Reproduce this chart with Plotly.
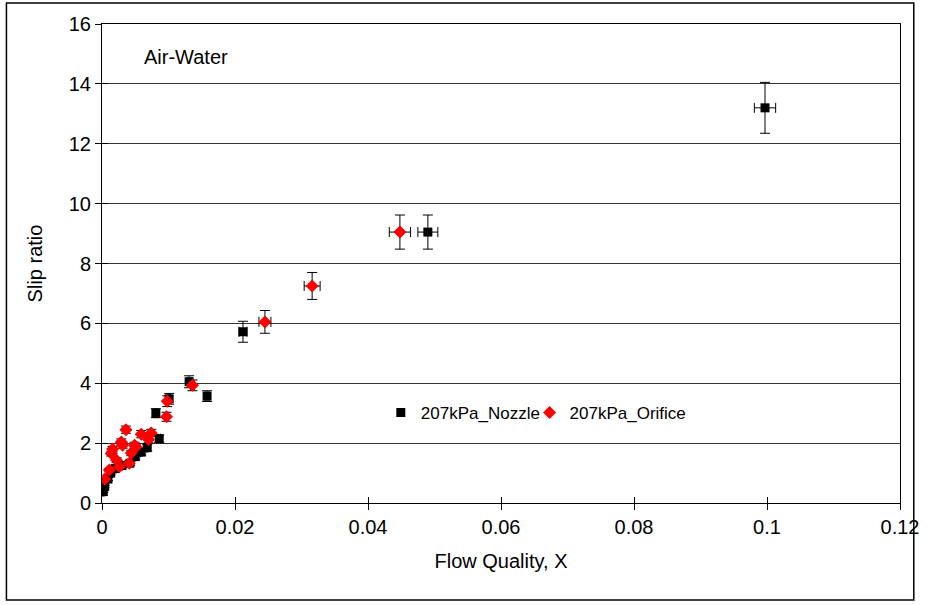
import plotly.graph_objects as go

# Nozzle data (black squares)
nozzle_x = [0.0002, 0.0004, 0.0009, 0.0013, 0.0020, 0.0030, 0.0042, 0.0050, 0.0059, 0.0068,
            0.0086, 0.0081, 0.0101, 0.0131, 0.0158, 0.0212, 0.0490, 0.0997]
nozzle_y = [0.38, 0.55, 0.80, 1.00, 1.15, 1.25, 1.33, 1.55, 1.70, 1.85,
            2.15, 3.00, 3.48, 4.05, 3.57, 5.72, 9.05, 13.2]
nozzle_ey = [0.03, 0.04, 0.05, 0.06, 0.07, 0.08, 0.08, 0.09, 0.10, 0.11,
             0.12, 0.15, 0.18, 0.20, 0.18, 0.35, 0.57, 0.85]
nozzle_ex = [0.0001, 0.0001, 0.0001, 0.0001, 0.0001, 0.0001, 0.0001, 0.0001, 0.0001, 0.0001,
             0.0002, 0.0002, 0.0002, 0.0003, 0.0003, 0.0006, 0.0015, 0.0016]

# Orifice data (red diamonds)
orifice_x = [0.0004, 0.0011, 0.0014, 0.0016, 0.0022, 0.0026, 0.0029, 0.0031, 0.0036, 0.0041,
             0.0044, 0.0049, 0.0051, 0.0059, 0.0070, 0.0074, 0.0097, 0.0098, 0.0136, 0.0245,
             0.0316, 0.0448]
orifice_y = [0.80, 1.10, 1.65, 1.80, 1.43, 1.21, 2.04, 1.93, 2.45, 1.33,
             1.67, 1.93, 1.87, 2.30, 2.12, 2.34, 2.88, 3.40, 3.93, 6.05,
             7.25, 9.05]
orifice_ey = [0.05, 0.06, 0.08, 0.09, 0.08, 0.07, 0.10, 0.10, 0.12, 0.08,
              0.09, 0.10, 0.10, 0.12, 0.11, 0.12, 0.15, 0.18, 0.18, 0.38,
              0.45, 0.57]
orifice_ex = [0.0001, 0.0001, 0.0001, 0.0001, 0.0001, 0.0001, 0.0001, 0.0001, 0.0001, 0.0001,
              0.0001, 0.0001, 0.0001, 0.0001, 0.0002, 0.0002, 0.0002, 0.0002, 0.0003, 0.0009,
              0.0012, 0.0016]

x_ticks = [0, 0.02, 0.04, 0.06, 0.08, 0.1, 0.12]
x_ticklabels = ["0", "0.02", "0.04", "0.06", "0.08", "0.1", "0.12"]
y_ticks = [0, 2, 4, 6, 8, 10, 12, 14, 16]

FONT = "Liberation Sans, Arial, sans-serif"
L, R, T, B = 102, 19, 24, 102
W, H = 931, 605
PW, PH = W - L - R, H - T - B

err_style = dict(type="data", color="black", thickness=1, width=5, visible=True)

fig = go.Figure()
fig.add_trace(go.Scatter(
    x=nozzle_x, y=nozzle_y, mode="markers", name="207kPa_Nozzle", legend="legend",
    marker=dict(symbol="square", size=9, color="black", line=dict(width=0)),
    error_y=dict(array=nozzle_ey, **err_style),
    error_x=dict(array=nozzle_ex, **err_style),
))
fig.add_trace(go.Scatter(
    x=orifice_x, y=orifice_y, mode="markers", name="207kPa_Orifice", legend="legend2",
    marker=dict(symbol="diamond", size=10, color="#ff0000", line=dict(width=0)),
    error_y=dict(array=orifice_ey, **err_style),
    error_x=dict(array=orifice_ex, **err_style),
))

leg_common = dict(orientation="h", y=0.188, xanchor="left", yanchor="middle",
                  bgcolor="rgba(0,0,0,0)", font=dict(size=17, family=FONT), itemwidth=30)

fig.update_layout(
    width=W, height=H,
    margin=dict(l=L, r=R, t=T, b=B),
    paper_bgcolor="white", plot_bgcolor="white",
    font=dict(family=FONT, size=20, color="black"),
    showlegend=True,
    legend=dict(x=(385 - L) / PW, **leg_common),
    legend2=dict(x=(536 - L) / PW, **leg_common),
    xaxis=dict(range=[0, 0.12], tickvals=x_ticks, ticktext=x_ticklabels,
               showgrid=False, zeroline=False, showline=True, linecolor="black",
               linewidth=1, mirror=True, ticks="outside", ticklen=6, tickcolor="black",
               ticklabeloverflow="allow",
               title=dict(text="Flow Quality, X", font=dict(size=20), standoff=16),
               tickfont=dict(size=20)),
    yaxis=dict(range=[0, 16], tickvals=y_ticks,
               showgrid=True, gridcolor="#333333", gridwidth=1,
               zeroline=False, showline=True, linecolor="black", linewidth=1, mirror=True,
               ticks="outside", ticklen=6, tickcolor="black",
               title=dict(text="Slip ratio", font=dict(size=20), standoff=20),
               tickfont=dict(size=20)),
    xaxis2=dict(range=[0, 0.12], tickvals=x_ticks, overlaying="x", side="bottom",
                showticklabels=False, ticks="inside", ticklen=6, tickcolor="black",
                showgrid=False, zeroline=False, showline=False, anchor="y"),
    yaxis2=dict(range=[0, 16], tickvals=y_ticks, overlaying="y", side="left",
                showticklabels=False, ticks="inside", ticklen=6, tickcolor="black",
                showgrid=False, zeroline=False, showline=False, anchor="x"),
    annotations=[dict(text="Air-Water", xref="paper", yref="paper",
                      x=(143 - L) / PW, y=(H - B - 57) / PH, xanchor="left",
                      yanchor="middle", showarrow=False, font=dict(size=20, family=FONT))],
    shapes=[dict(type="rect", xref="paper", yref="paper",
                 x0=(5 - L) / PW, x1=(926 - L) / PW,
                 y0=(H - B - 600) / PH, y1=(H - B - 3) / PH,
                 line=dict(color="black", width=1.5), fillcolor="rgba(0,0,0,0)",
                 layer="below")],
)
# invisible trace to activate the secondary (tick-crossing) axes
fig.add_trace(go.Scatter(x=[None], y=[None], xaxis="x2", yaxis="y2",
                         showlegend=False, hoverinfo="skip"))

fig.write_html("out.html")
